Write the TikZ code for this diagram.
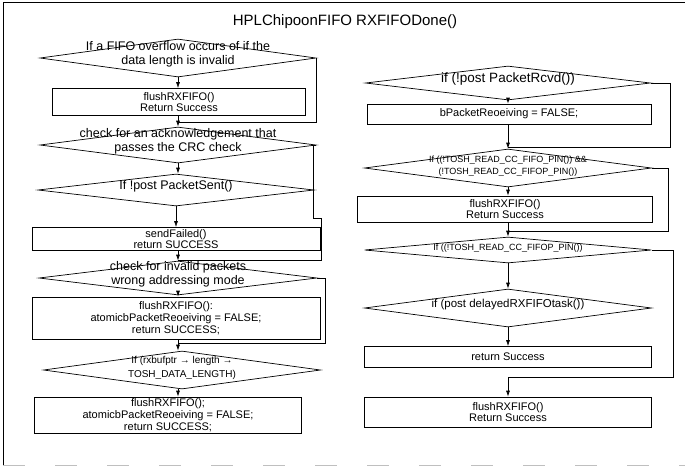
\documentclass[tikz,border=0pt]{standalone}
\usepackage{fontspec}
\setmainfont{Liberation Sans}
\usetikzlibrary{shapes.geometric,arrows.meta}

\tikzset{
  decision/.style={diamond, draw, inner sep=0pt},
  action/.style={rectangle, draw, inner sep=0.5pt, align=center,
    font=\fontsize{11}{11.8}\selectfont},
  big/.style={font=\fontsize{12.5}{13.5}\selectfont},
  small/.style={font=\fontsize{9}{12}\selectfont},
  mid/.style={font=\fontsize{10}{14}\selectfont}
}
% text that may run over the edges of a diamond
\newcommand{\condtext}[1]{\smash{\makebox[0pt]{\begin{tabular}{@{}c@{}}#1\end{tabular}}}}

\begin{document}
\begin{tikzpicture}[x=1pt,y=-1pt,>={Latex[length=6pt,width=4pt]},line width=0.7pt]
  \useasboundingbox (0,0) rectangle (685,467);
  \draw (3,465) -- (3,2) -- (685,2);
  \draw[gray!50,dash pattern=on 22pt off 30pt] (3,465) -- (685,465);
  \node[font=\fontsize{15}{17}\selectfont] (title) at (345,22) {HPLChipoonFIFO RXFIFODone()};

  % left column
  \node[decision, big, minimum width=276pt, minimum height=38pt] (ovf) at (178,58)
    {\condtext{If a FIFO overflow occurs of if the\\data length is invalid}};
  \node[action, minimum width=253pt, minimum height=27pt] (flush1) at (179,102)
    {flushRXFIFO()\\Return Success};
  \node[decision, big, minimum width=276pt, minimum height=36pt] (ack) at (178,145)
    {\condtext{check for an acknowledgement that\\passes the CRC check}};
  \node[decision, big, minimum width=276pt, minimum height=32pt] (sent) at (176,190)
    {\condtext{If !post PacketSent()}};
  \node[action, minimum width=288pt, minimum height=23pt] (failed) at (176,239)
    {sendFailed()\\return SUCCESS};
  \node[decision, big, minimum width=278pt, minimum height=34pt] (inval) at (178,278)
    {\condtext{check for invalid packets\\wrong addressing mode}};
  \node[action, minimum width=288pt, minimum height=42pt] (flush2) at (176,318)
    {flushRXFIFO():\\atomicbPacketReoeiving = FALSE;\\return SUCCESS;};
  \node[decision, mid, minimum width=277pt, minimum height=38pt] (len) at (182,370)
    {\condtext{If (rxbufptr → length →\\TOSH\_DATA\_LENGTH)}};
  \node[action, minimum width=267pt, minimum height=36pt] (flush3) at (168,415)
    {flushRXFIFO();\\atomicbPacketReoeiving = FALSE;\\return SUCCESS;};

  \coordinate (j1) at (178,122);
  \coordinate (c2a) at (313,218);
  \coordinate (c2b) at (321,218);
  \coordinate (j2) at (178,260);
  \coordinate (c4) at (325,343);
  \coordinate (j4) at (178,343);

  \draw[->] (ovf.south) -- (ovf.south |- flush1.north);
  \draw[->] (flush1.south -| ovf.south) -- (ack.north);
  \draw (ovf.east) |- (j1);
  \draw[->] (ack.south) -- (ack.south |- sent.north);
  \draw[->] (sent.south) -- (sent.south |- failed.north);
  \draw (ack.east) -| (c2a) -- (c2b) |- (j2);
  \draw[->] (failed.south -| inval.north) -- (inval.north);
  \draw[->] (inval.south) -- (inval.south |- flush2.north);
  \draw (inval.east) -| (c4) -- (j4);
  \draw[->] (flush2.south -| inval.north) -- (inval.north |- len.north);
  \draw[->] (inval.south |- len.south) -- (inval.south |- flush3.north);

  % right column
  \node[decision, font=\fontsize{13.5}{14}\selectfont, minimum width=285pt, minimum height=34pt] (rcvd) at (508,83)
    {\condtext{if (!post PacketRcvd())}};
  \node[action, minimum width=284pt, minimum height=20pt] (recv) at (509,114)
    {bPacketReoeiving = FALSE;};
  \node[decision, small, minimum width=287pt, minimum height=38pt] (pins) at (508,168)
    {\condtext{If ((!TOSH\_READ\_CC\_FIFO\_PIN()) \&\&\\(!TOSH\_READ\_CC\_FIFOP\_PIN())}};
  \node[action, minimum width=295pt, minimum height=26pt] (flush4) at (505,209)
    {flushRXFIFO()\\Return Success};
  \node[decision, small, minimum width=287pt, minimum height=26pt] (fifop) at (508,250)
    {\condtext{If ((!TOSH\_READ\_CC\_FIFOP\_PIN())}};
  \node[decision, font=\fontsize{11.5}{13}\selectfont, minimum width=287pt, minimum height=38pt] (task) at (508,308)
    {\condtext{if (post delayedRXFIFOtask())}};
  \node[action, minimum width=287pt, minimum height=21pt] (done) at (508,357)
    {return Success};
  \node[action, minimum width=287pt, minimum height=30pt] (flush5) at (508,412)
    {flushRXFIFO()\\Return Success};

  \coordinate (c6) at (670,147);
  \coordinate (j6) at (508,147);
  \coordinate (c7) at (668,231);
  \coordinate (j7) at (508,231);
  \coordinate (c8) at (673,377);
  \coordinate (j8) at (508,377);

  \draw[->] (rcvd.south) -- (rcvd.south |- recv.north);
  \draw[->] (rcvd.south |- recv.south) -- (pins.north);
  \draw (rcvd.east) -| (c6) -- (j6);
  \draw[->] (pins.south) -- (pins.south |- flush4.north);
  \draw[->] (pins.south |- flush4.south) -- (fifop.north);
  \draw (pins.east) -| (c7) -- (j7);
  \draw[->] (fifop.south) -- (task.north);
  \draw[->] (task.south) -- (done.north);
  \draw (fifop.east) -| (c8) -- (j8);
  \draw[->] (j8) -- (j8 |- flush5.north);
\end{tikzpicture}
\end{document}
